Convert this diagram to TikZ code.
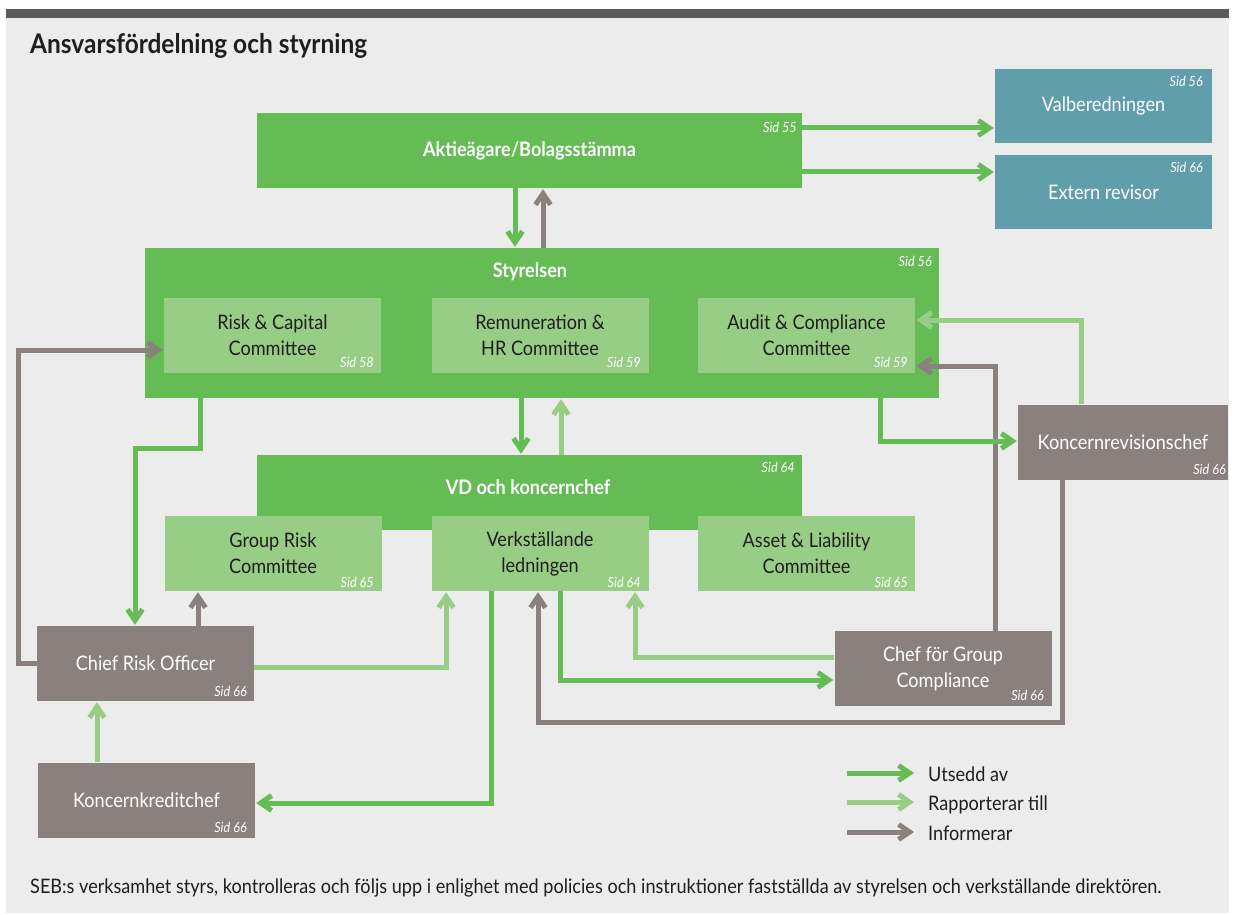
\documentclass[tikz,border=0pt]{standalone}
\usepackage{fontspec}
\setmainfont{Lato}[FakeStretch=0.905]
\usetikzlibrary{arrows.meta,calc}
\definecolor{sebgreen}{HTML}{65BC55}
\definecolor{sebpale}{HTML}{98CD85}
\definecolor{sebgrey}{HTML}{8A817F}
\definecolor{sebteal}{HTML}{609EAC}
\definecolor{panelbg}{HTML}{EBECEB}
\definecolor{barcol}{HTML}{5A5B5D}
\definecolor{inktext}{HTML}{1E1E1E}
\newcommand\lblfont{\fontsize{20}{26}\selectfont}
\newcommand\sidfont{\fontsize{14}{16}\selectfont\itshape}
\newcommand\hdfont{\fontsize{20}{24}\selectfont\bfseries}
\newcommand\ttlfont{\fontsize{27}{30}\selectfont\bfseries}

\begin{document}
\begin{tikzpicture}[x=1pt, y=-1pt,
    box/.style={rectangle, inner sep=0pt, align=center, font=\lblfont},
    topbox/.style={box, fill=sebgreen, text=white, font=\hdfont},
    subbox/.style={box, fill=sebpale, text=inktext, minimum width=217pt, minimum height=75pt},
    tealbox/.style={box, fill=sebteal, text=white, minimum width=217pt, minimum height=74pt},
    greybox/.style={box, fill=sebgrey, text=white, minimum width=217pt, minimum height=75pt},
    sid/.style={anchor=base east, inner sep=0pt, text=white, font=\sidfont},
    hd/.style={inner sep=0pt, text=white, font=\hdfont},
    utsedd/.style={draw=sebgreen, line width=5pt, -{Straight Barb[length=11pt,width=15pt]}, shorten >=1pt},
    rapport/.style={utsedd, draw=sebpale},
    inform/.style={utsedd, draw=sebgrey}]
  \useasboundingbox (0,0) rectangle (1235,915);
  % panel
  \fill[panelbg] (6,9) rectangle (1229,913);
  \fill[barcol] (6,9) rectangle (1229,18);
  \node[anchor=base west, inner sep=0pt, text=inktext] (title) at (30,54) {\ttlfont Ansvarsfördelning och styrning};

  % top level
  \node[topbox, minimum width=545pt, minimum height=75pt] (akt) at (529.5,150.5) {Aktieägare/Bolagsstämma};
  \node[sid] (akt-sid) at (797,133) {Sid 55};
  \node[tealbox] (valb) at (1103.5,106) {Valberedningen};
  \node[sid] (valb-sid) at (1203,87) {Sid 56};
  \node[tealbox] (extrev) at (1103.5,192) {Extern revisor};
  \node[sid] (extrev-sid) at (1203,173) {Sid 66};

  % board
  \node[topbox, minimum width=794pt, minimum height=150pt] (styr) at (542,323) {};
  \node[hd] (styr-t) at (530,272) {Styrelsen};
  \node[sid] (styr-sid) at (932,266) {Sid 56};
  \node[subbox] (rcc) at (272.5,335.5) {Risk \& Capital\\Committee};
  \node[sid] (rcc-sid) at (374,367) {Sid 58};
  \node[subbox] (rhr) at (540,335.5) {Remuneration \&\\HR Committee};
  \node[sid] (rhr-sid) at (641,367) {Sid 59};
  \node[subbox] (acc) at (806.5,335.5) {Audit \& Compliance\\Committee};
  \node[sid] (acc-sid) at (908,367) {Sid 59};

  % CEO
  \node[topbox, minimum width=545pt, minimum height=75pt] (vd) at (529.5,492.5) {};
  \node[hd] (vd-t) at (528,487) {VD och koncernchef};
  \node[sid] (vd-sid) at (795,472) {Sid 64};
  \node[subbox] (grc) at (273,553.5) {Group Risk\\Committee};
  \node[sid] (grc-sid) at (374,587) {Sid 65};
  \node[subbox] (led) at (540,553.5) {Verkställande\\ledningen};
  \node[sid] (led-sid) at (641,587) {Sid 64};
  \node[subbox] (alc) at (806.5,553.5) {Asset \& Liability\\Committee};
  \node[sid] (alc-sid) at (908,587) {Sid 65};

  % control functions
  \node[greybox, minimum width=210pt] (krc) at (1123,442) {Koncernrevisionschef};
  \node[sid] (krc-sid) at (1226,474) {Sid 66};
  \node[greybox] (cro) at (145.5,663.5) {Chief Risk Officer};
  \node[sid] (cro-sid) at (247,696) {Sid 66};
  \node[greybox] (cgc) at (943,668.5) {Chef för Group\\Compliance};
  \node[sid] (cgc-sid) at (1044,700) {Sid 66};
  \node[greybox] (kkc) at (146.5,800) {Koncernkreditchef};
  \node[sid] (kkc-sid) at (247,832) {Sid 66};

  % connectors
  \draw[utsedd] (akt.east |- 0,128) -- (valb.west |- 0,128);
  \draw[utsedd] (akt.east |- 0,172) -- (extrev.west |- 0,172);
  \draw[utsedd] (515,0 |- akt.south) -- (515,0 |- styr.north);
  \draw[inform] (543,0 |- styr.north) -- (543,0 |- akt.south);
  \draw[utsedd] (521,0 |- styr.south) -- (521,0 |- vd.north);
  \draw[rapport] (561,0 |- vd.north) -- (561,0 |- styr.south);
  \draw[inform] (cro.west |- 0,663) -| (18,350) -- (rcc.west |- 0,350);
  \draw[utsedd] (200,0 |- styr.south) |- (135,448) -- (135,0 |- cro.north);
  \draw[inform] (198,0 |- cro.north) -- (198,0 |- grc.south);
  \draw[rapport] (cro.east |- 0,667) -| (446,0 |- led.south);
  \draw[rapport] (97,0 |- kkc.north) -- (97,0 |- cro.south);
  \draw[utsedd] (491,0 |- led.south) |- (kkc.east |- 0,803);
  \draw[utsedd] (560,0 |- led.south) |- (cgc.west |- 0,680);
  \draw[rapport] (cgc.west |- 0,657) -| (635,0 |- led.south);
  \draw[inform] (1062,0 |- krc.south) |- (538,722) -- (538,0 |- led.south);
  \draw[inform] (995,0 |- cgc.north) |- (acc.east |- 0,366);
  \draw[rapport] (1081,0 |- krc.north) |- (acc.east |- 0,320);
  \draw[utsedd] (880,0 |- styr.south) |- (krc.west |- 0,441);

  % legend
  \foreach \st/\txt/\yy [count=\i] in {utsedd/Utsedd av/781, rapport/Rapporterar till/810, inform/Informerar/840} {
    \node[anchor=base west, inner sep=0pt, font=\lblfont, text=inktext] (leg\i) at (928,\yy) {\txt};
    \draw[\st] ($(leg\i.base west)+(-81,-8)$) -- ($(leg\i.base west)+(-13,-8)$);
  }

  \node[anchor=base west, inner sep=0pt, font=\lblfont, text=inktext] (foot) at (30,893) {SEB:s verksamhet styrs, kontrolleras och följs upp i enlighet med policies och instruktioner fastställda av styrelsen och verkställande direktören.};
\end{tikzpicture}
\end{document}
